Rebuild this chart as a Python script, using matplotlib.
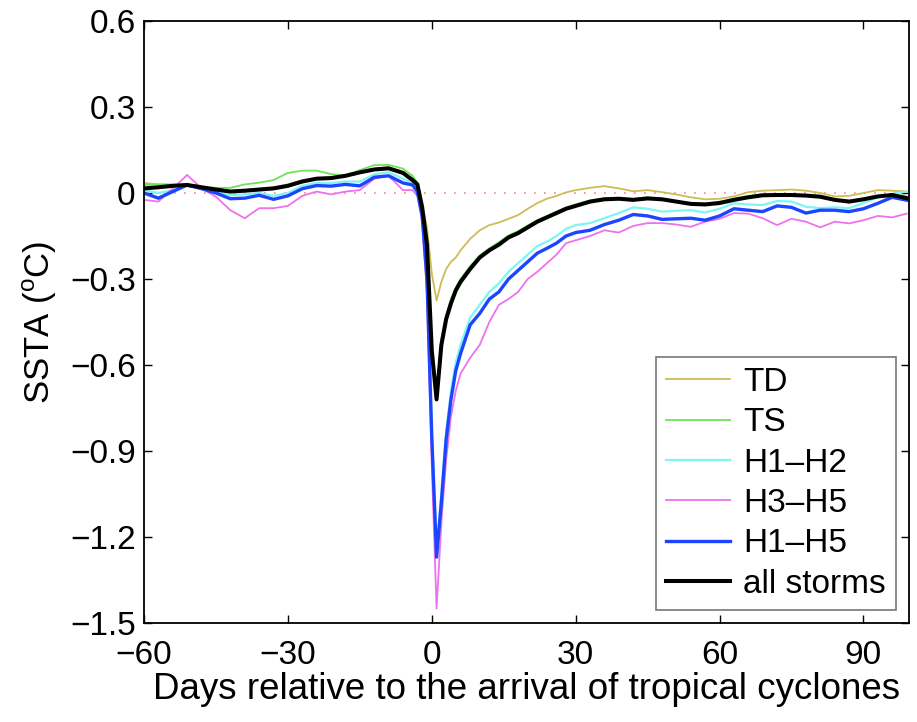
"""
SST anomaly composites relative to tropical cyclone arrival
"""

import matplotlib
matplotlib.use("Agg")
import matplotlib.pyplot as plt

# Days relative to storm arrival
DAYS = [-60, -57, -54, -51, -48, -45, -42, -39, -36, -33, -30, -27, -24, -21,
        -18, -15, -12, -9, -6, -4, -3, -2, -1, 0, 1, 2, 3, 4, 5, 6,
        8, 10, 12, 14, 16, 18, 20, 22, 24, 26, 28, 30,
        33, 36, 39, 42, 45, 48, 51, 54, 57, 60, 63, 66, 69, 72, 75, 78,
        81, 84, 87, 90, 93, 96, 99]

TD = [0.035, 0.03, 0.028, 0.03, 0.022, 0.015, 0.008, 0.01, 0.015, 0.02, 0.03,
      0.045, 0.052, 0.055, 0.062, 0.075, 0.085, 0.09, 0.075, 0.05, 0.025,
      -0.04, -0.12, -0.28, -0.375, -0.31, -0.265, -0.24, -0.225, -0.2,
      -0.16, -0.13, -0.112, -0.103, -0.09, -0.077, -0.055, -0.035, -0.02,
      -0.01, 0.002, 0.01,
      0.018, 0.024, 0.016, 0.006, 0.01, 0.003, -0.005, -0.015, -0.022, -0.02,
      -0.012, 0.003, 0.008, 0.01, 0.012, 0.008, 0.0, -0.012, -0.01, 0.0,
      0.01, 0.008, 0.005]

TS = [0.028, 0.03, 0.03, 0.028, 0.022, 0.018, 0.018, 0.03, 0.036, 0.045, 0.07,
      0.078, 0.078, 0.066, 0.06, 0.08, 0.097, 0.098, 0.085, 0.06, 0.035,
      -0.045, -0.18, -0.53, -0.70, -0.51, -0.425, -0.37, -0.33, -0.30,
      -0.255, -0.218, -0.193, -0.172, -0.148, -0.133, -0.113, -0.095, -0.08,
      -0.065, -0.05, -0.04,
      -0.026, -0.018, -0.018, -0.02, -0.015, -0.02, -0.028, -0.035, -0.036,
      -0.03, -0.02, -0.01, -0.004, -0.005, -0.006, -0.008, -0.012, -0.022,
      -0.027, -0.02, -0.01, -0.004, -0.012]

H1_H2 = [0.01, 0.0, 0.01, 0.028, 0.018, 0.005, -0.008, -0.005, 0.0, -0.01, 0.0,
         0.025, 0.035, 0.035, 0.04, 0.04, 0.065, 0.072, 0.05, 0.035, 0.01,
         -0.07, -0.28, -0.82, -1.24, -1.04, -0.83, -0.69, -0.59, -0.53,
         -0.435, -0.39, -0.345, -0.315, -0.275, -0.245, -0.215, -0.185, -0.17,
         -0.15, -0.125, -0.112,
         -0.105, -0.088, -0.07, -0.05, -0.055, -0.065, -0.062, -0.06, -0.068,
         -0.055, -0.036, -0.04, -0.042, -0.028, -0.03, -0.048, -0.053, -0.05,
         -0.053, -0.035, -0.015, -0.003, 0.005]

H3_H5 = [-0.024, -0.03, 0.016, 0.063, 0.016, -0.013, -0.06, -0.088, -0.053,
         -0.053, -0.045, -0.01, 0.005, -0.005, 0.005, 0.01, 0.05, 0.06, 0.01,
         0.01, -0.01, -0.1, -0.35, -0.95, -1.45, -1.15, -0.93, -0.78, -0.69,
         -0.63, -0.575, -0.53, -0.45, -0.39, -0.37, -0.345, -0.30, -0.275,
         -0.245, -0.215, -0.175, -0.165,
         -0.15, -0.13, -0.138, -0.115, -0.105, -0.105, -0.11, -0.118, -0.1,
         -0.09, -0.07, -0.072, -0.088, -0.112, -0.09, -0.1, -0.12, -0.1,
         -0.106, -0.095, -0.08, -0.085, -0.072]

H1_H5 = [0.0, -0.018, 0.005, 0.028, 0.015, 0.0, -0.02, -0.018, -0.008, -0.022,
         -0.01, 0.015, 0.026, 0.024, 0.03, 0.025, 0.055, 0.06, 0.035, 0.028,
         0.005, -0.08, -0.3, -0.85, -1.27, -1.08, -0.86, -0.72, -0.62, -0.56,
         -0.46, -0.42, -0.37, -0.345, -0.3, -0.27, -0.24, -0.21, -0.193,
         -0.175, -0.15, -0.138,
         -0.13, -0.11, -0.095, -0.075, -0.08, -0.092, -0.09, -0.088, -0.095,
         -0.08, -0.055, -0.06, -0.065, -0.045, -0.05, -0.07, -0.06, -0.06,
         -0.065, -0.055, -0.036, -0.015, -0.025]

ALL_STORMS = [0.016, 0.02, 0.025, 0.028, 0.02, 0.012, 0.005, 0.008, 0.012,
              0.016, 0.025, 0.04, 0.05, 0.052, 0.06, 0.072, 0.082, 0.086,
              0.07, 0.045, 0.03, -0.05, -0.18, -0.55, -0.72, -0.53, -0.44,
              -0.385, -0.34, -0.31, -0.265, -0.225, -0.2, -0.18, -0.155, -0.14,
              -0.12, -0.10, -0.085, -0.07, -0.055, -0.045,
              -0.03, -0.022, -0.02, -0.024, -0.019, -0.022, -0.03, -0.038,
              -0.04, -0.035, -0.024, -0.015, -0.008, -0.007, -0.007, -0.009,
              -0.013, -0.024, -0.03, -0.022, -0.012, -0.007, -0.018]

LABELS = ['TD', 'TS', 'H1\u2013H2', 'H3\u2013H5', 'H1\u2013H5', 'all storms']
COLORS = ['#cdbd55', '#6ee35a', '#7ef5f5', '#ee72ee', '#1d45ff', '#000000']
WIDTHS = [1.3, 1.3, 1.6, 1.3, 2.4, 2.9]

X_TICKS = [-60, -30, 0, 30, 60, 90]
Y_TICKS = [-1.5, -1.2, -0.9, -0.6, -0.3, 0, 0.3, 0.6]
Y_TICK_LABELS = ['\u22121.5', '\u22121.2', '\u22120.9', '\u22120.6', '\u22120.3',
                 '0', '0.3', '0.6']
X_TICK_LABELS = ['\u221260', '\u221230', '0', '30', '60', '90']

plt.rcParams['font.family'] = ['Liberation Sans', 'DejaVu Sans']
plt.rcParams['mathtext.fontset'] = 'custom'
plt.rcParams['mathtext.rm'] = 'Liberation Sans'

fig = plt.figure(figsize=(9.17, 7.22), dpi=100)
ax = fig.add_axes([144 / 917, 99 / 722, 765 / 917, 602 / 722])

ax.axhline(0, color='#f08a8a', linestyle=(0, (1, 5)), linewidth=1.2, zorder=1)

series = [TD, TS, H1_H2, H3_H5, H1_H5, ALL_STORMS]
for vals, lab, col, lw in zip(series, LABELS, COLORS, WIDTHS):
    ax.plot(DAYS, vals, color=col, linewidth=lw, label=lab, zorder=2)

ax.set_xlim(-60, 99.5)
ax.set_ylim(-1.5, 0.6)
ax.set_xticks(X_TICKS)
ax.set_xticklabels(X_TICK_LABELS)
ax.set_yticks(Y_TICKS)
ax.set_yticklabels(Y_TICK_LABELS)
ax.tick_params(direction='in', length=6, width=1, labelsize=24,
               top=True, right=True)
ax.tick_params(axis='x', pad=12)
ax.tick_params(axis='y', pad=6)
for sp in ax.spines.values():
    sp.set_linewidth(1.3)

ax.set_xlabel('Days relative to the arrival of tropical cyclones',
              fontsize=26.5, labelpad=1)
ax.set_ylabel('SSTA ($^{\\mathrm{o}}$C)', fontsize=25, labelpad=8)

leg = ax.legend(loc='lower right', fontsize=24, frameon=True, fancybox=False,
                edgecolor='#555555', handlelength=1.9, handletextpad=0.4,
                labelspacing=0.28, borderpad=0.3, borderaxespad=0.4)
leg.get_frame().set_linewidth(1.2)

fig.savefig('out.png', dpi=100, facecolor='white')
